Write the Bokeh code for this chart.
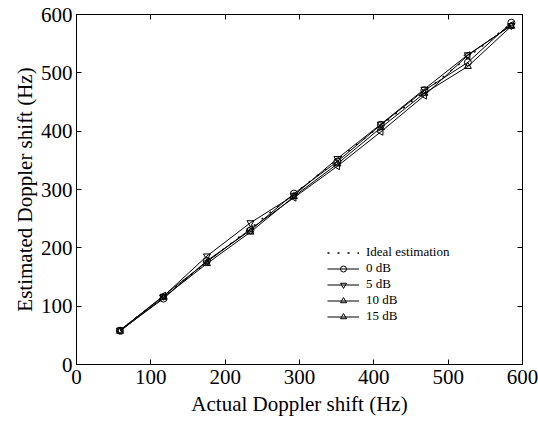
import math
from bokeh.plotting import figure
from bokeh.models import (Legend, LegendItem, LinearAxis, Range1d, FixedTicker,
                          ColumnDataSource)
from bokeh.embed import file_html
from bokeh.resources import INLINE

# ---- data ----
actual_hz = [58.5, 117, 175.5, 234, 292.5, 351, 409.5, 468, 526.5, 585]
ideal_hz = [58.5, 117, 175.5, 234, 292.5, 351, 409.5, 468, 526.5, 585]
est_0db = [58, 113, 178, 230, 293, 348, 411, 470, 518, 586]
est_5db = [59, 117, 186, 243, 290, 353, 412, 472, 531, 581]
est_10db = [57, 115, 173, 227, 288, 344, 406, 465, 511, 580]
est_15db = [58, 118, 176, 232, 286, 340, 399, 461, 530, 582]
tick_values = [0, 100, 200, 300, 400, 500, 600]
series_labels = ["Ideal estimation", "0 dB", "5 dB", "10 dB", "15 dB"]

FONT = "Liberation Serif"

p = figure(width=538, height=421,
           x_range=Range1d(0, 600), y_range=Range1d(0, 600),
           output_backend="svg", toolbar_location=None,
           min_border_left=76, min_border_right=16,
           min_border_top=14, min_border_bottom=57)

p.xgrid.visible = False
p.ygrid.visible = False
p.outline_line_color = "black"
p.outline_line_alpha = 1.0
p.outline_line_width = 1
p.background_fill_color = "white"
p.border_fill_color = "white"

for ax in (p.xaxis[0], p.yaxis[0]):
    ax.ticker = FixedTicker(ticks=tick_values)
    ax.minor_tick_line_color = None
    ax.major_tick_in = 5
    ax.major_tick_out = 0
    ax.major_tick_line_color = "black"
    ax.axis_line_color = "black"
    ax.major_label_text_font = FONT
    ax.major_label_text_font_size = "21px"
    ax.major_label_text_color = "black"
    ax.axis_label_text_font = FONT
    ax.axis_label_text_font_size = "21px"
    ax.axis_label_text_font_style = "normal"
    ax.axis_label_text_color = "black"

p.xaxis.axis_label = "Actual Doppler shift (Hz)"
p.yaxis.axis_label = "Estimated Doppler shift (Hz)"
p.xaxis.major_label_standoff = 5
p.xaxis.axis_label_standoff = 5
p.yaxis.major_label_standoff = 4
p.yaxis.axis_label_standoff = 1

for side in ("above", "right"):
    ax = LinearAxis(ticker=FixedTicker(ticks=tick_values))
    ax.major_label_overrides = {t: "" for t in tick_values}
    ax.major_label_standoff = 0
    ax.minor_tick_line_color = None
    ax.major_tick_in = 5
    ax.major_tick_out = 0
    ax.major_tick_line_color = "black"
    ax.axis_line_color = "black"
    p.add_layout(ax, side)

ideal = p.line(actual_hz, ideal_hz, line_color="black", line_width=1.3,
               line_dash="2 8")

items = [LegendItem(label=series_labels[0], renderers=[ideal])]
specs = [
    (est_0db, "circle", 0.0),
    (est_5db, "inverted_triangle", 0.0),
    (est_10db, "triangle", 0.0),
    (est_15db, "triangle", math.pi / 2),
]
for (vals, marker, ang), lab in zip(specs, series_labels[1:]):
    src = ColumnDataSource(dict(x=actual_hz, y=vals,
                                ang=[ang] * len(actual_hz)))
    ln = p.line("x", "y", source=src, line_color="black", line_width=1)
    sc = p.scatter("x", "y", source=src, marker=marker, angle="ang", size=7,
                   line_color="black", fill_color=None, line_width=1)
    items.append(LegendItem(label=lab, renderers=[ln, sc], index=0))

legend = Legend(items=items, location=(251, 40))
legend.padding = 0
legend.margin = 0
legend.spacing = 0
legend.border_line_color = None
legend.background_fill_alpha = 0
legend.glyph_width = 32
legend.glyph_height = 15
legend.label_height = 15
legend.label_standoff = 7
legend.label_text_font = FONT
legend.label_text_font_size = "13px"
legend.label_text_color = "black"
p.add_layout(legend, "center")

open("out.html", "w").write(file_html(p, INLINE))
